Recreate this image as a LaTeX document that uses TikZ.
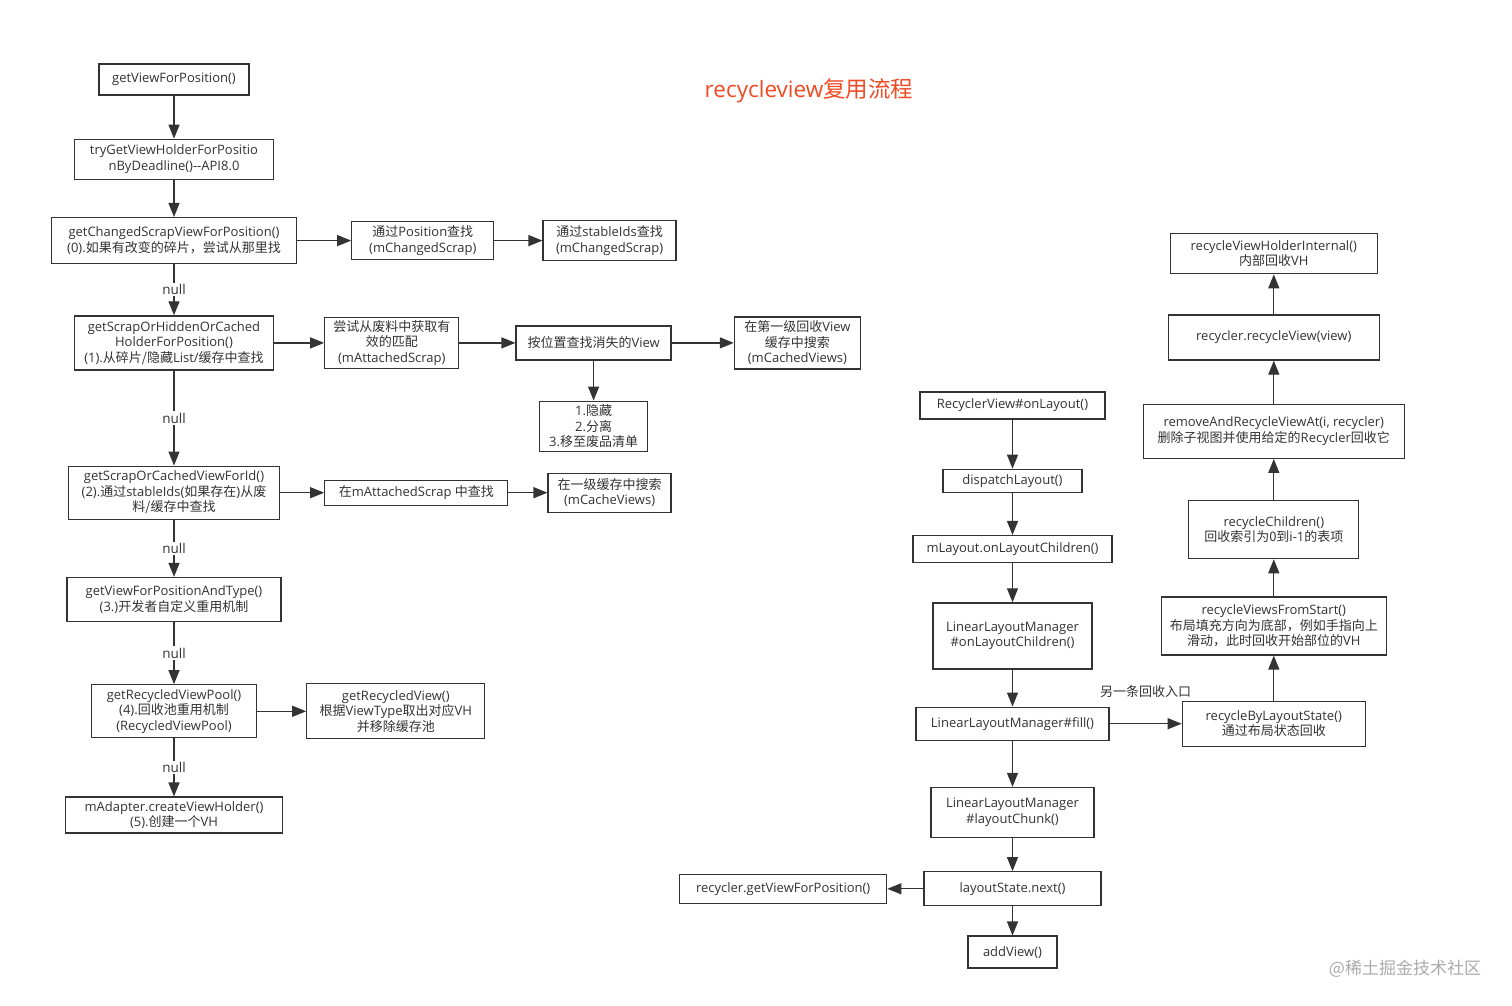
\documentclass[tikz,border=0pt]{standalone}
\usepackage{fontspec}
\setmainfont{Open Sans}
\newfontfamily\cjkfont{Noto Sans CJK SC}
\usetikzlibrary{arrows.meta, positioning}
\definecolor{linegray}{HTML}{333333}
\definecolor{titlered}{HTML}{F04A24}
\definecolor{markgray}{HTML}{ABABAB}
\newcommand{\zh}[1]{{\cjkfont #1}}

\begin{document}
\begin{tikzpicture}[x=1pt, y=1pt,
  box/.style={rectangle, draw=linegray, line width=1.3pt, fill=white, text=linegray, align=center, inner sep=1pt, font=\fontsize{13}{15.5}\selectfont},
  sz/.style 2 args={minimum width=#1pt, minimum height=#2pt},
  arrow/.style={-{Triangle[length=14pt, width=11pt]}, line width=1.3pt, color=linegray},
  lbl/.style={fill=white, text=linegray, inner sep=1.5pt, font=\fontsize{13.5}{15}\selectfont}
]
\useasboundingbox[fill=white] (0,0) rectangle (1512,-1006);
\node[font=\fontsize{22.5}{26}\selectfont, text=titlered] (title) at (809,-91) {recycleview\zh{复用流程}};

% lookup chain
\node[box, sz={150}{31}] (gv) at (174,-79.5) {getViewForPosition()};
\node[box, sz={199}{40}, below=43pt of gv] (tryget) {tryGetViewHolderForPositio\\nByDeadline(){-}{-}API8.0};
\node[box, sz={245}{46}, below=37pt of tryget] (changed) {getChangedScrapViewForPosition()\\(0).\zh{如果有改变的碎片，尝试从那里找}};
\node[box, sz={199}{54}, below=51pt of changed] (hidden) {getScrapOrHiddenOrCached\\HolderForPosition()\\(1).\zh{从碎片/隐藏}List/\zh{缓存中查找}};
\node[box, sz={211}{53}, below=95pt of hidden] (byid) {getScrapOrCachedViewForId()\\(2).\zh{通过}stableIds(\zh{如果存在})\zh{从废}\\\zh{料/缓存中查找}};
\node[box, sz={214}{44}, below=57pt of byid] (bytype) {getViewForPositionAndType()\\(3.)\zh{开发者自定义重用机制}};
\node[box, sz={165}{53}, below=62pt of bytype] (pool) {getRecycledViewPool()\\(4).\zh{回收池重用机制}\\(RecycledViewPool)};
\node[box, sz={217}{36}, below=58pt of pool] (create) {mAdapter.createViewHolder()\\(5).\zh{创建一个}VH};

% side lookups
\node[box, sz={142}{38}, right=54pt of changed] (chpos) {\zh{通过}Position\zh{查找}\\(mChangedScrap)};
\node[box, sz={133}{40}, right=48pt of chpos] (chid) {\zh{通过}stableIds\zh{查找}\\(mChangedScrap)};
\node[box, sz={134}{51}, right=50pt of hidden] (attached) {\zh{尝试从废料中获取有}\\\zh{效的匹配}\\(mAttachedScrap)};
\node[box, sz={155}{34}, right=56pt of attached] (hiddenpos) {\zh{按位置查找消失的}View};
\node[box, sz={126}{52}, right=62pt of hiddenpos] (cached) {\zh{在第一级回收}View\\\zh{缓存中搜索}\\(mCachedViews)};
\node[box, sz={108}{50}, below=40pt of hiddenpos] (steps) {1.\zh{隐藏}\\2.\zh{分离}\\3.\zh{移至废品清单}};
\node[box, sz={183}{25}, right=44pt of byid] (attscrap) {\zh{在}mAttachedScrap \zh{中查找}};
\node[box, sz={123}{39}, right=39pt of attscrap] (cacheviews) {\zh{在一级缓存中搜索}\\(mCacheViews)};
\node[box, sz={178}{55}, right=49pt of pool] (recview) {getRecycledView()\\\zh{根据}ViewType\zh{取出对应}VH\\\zh{并移除缓存池}};

% layout chain
\node[box, sz={185}{27}] (onlayout) at (1012.5,-405.5) {RecyclerView\#onLayout()};
\node[box, sz={139}{23}, below=49pt of onlayout] (dispatch) {dispatchLayout()};
\node[box, sz={199}{27}, below=42pt of dispatch] (mlayout) {mLayout.onLayoutChildren()};
\node[box, sz={159}{66}, below=39pt of mlayout] (llmchildren) {LinearLayoutManager\\\#onLayoutChildren()};
\node[box, sz={193}{33}, below=37pt of llmchildren] (llmfill) {LinearLayoutManager\#fill()};
\node[box, sz={163}{50}, below=46pt of llmfill] (chunk) {LinearLayoutManager\\\#layoutChunk()};
\node[box, sz={177}{34}, below=33pt of chunk] (next) {layoutState.next()};
\node[box, sz={89}{32}, below=29pt of next] (addview) {addView()};
\node[box, sz={207}{29}, left=36pt of next] (getview) {recycler.getViewForPosition()};

% recycle chain
\node[box, sz={183}{45}, right=72pt of llmfill] (bystate) {recycleByLayoutState()\\\zh{通过布局状态回收}};
\node[box, sz={225}{58}, above=45pt of bystate] (fromstart) {recycleViewsFromStart()\\\zh{布局填充方向为底部，例如手指向上}\\\zh{滑动，此时回收开始部位的}VH};
\node[box, sz={170}{58}, above=37pt of fromstart] (children) {recycleChildren()\\\zh{回收索引为0到}i-1\zh{的表项}};
\node[box, sz={261}{54}, above=41pt of children] (removeat) {removeAndRecycleViewAt(i, recycler)\\\zh{删除子视图并使用给定的}Recycler\zh{回收它}};
\node[box, sz={211}{45}, above=43pt of removeat] (recycleview) {recycler.recycleView(view)};
\node[box, sz={207}{40}, above=40pt of recycleview] (internal) {recycleViewHolderInternal()\\\zh{内部回收}VH};

\node[text=markgray, font=\cjkfont\fontsize{17}{20}\selectfont] (mark) at (1405,-969) {@稀土掘金技术社区};

\draw[arrow] (gv) -- (tryget);
\draw[arrow] (tryget) -- (changed);
\draw[arrow] (changed) -- node[lbl] {null} (hidden);
\draw[arrow] (hidden) -- node[lbl] {null} (byid);
\draw[arrow] (byid) -- node[lbl] {null} (bytype);
\draw[arrow] (bytype) -- node[lbl] {null} (pool);
\draw[arrow] (pool) -- node[lbl] {null} (create);

\draw[arrow] (changed) -- (chpos);
\draw[arrow] (chpos) -- (chid);
\draw[arrow] (hidden) -- (attached);
\draw[arrow] (attached) -- (hiddenpos);
\draw[arrow] (hiddenpos) -- (cached);
\draw[arrow] (hiddenpos) -- (steps);
\draw[arrow] (byid) -- (attscrap);
\draw[arrow] (attscrap) -- (cacheviews);
\draw[arrow] (pool) -- (recview);

\draw[arrow] (onlayout) -- (dispatch);
\draw[arrow] (dispatch) -- (mlayout);
\draw[arrow] (mlayout) -- (llmchildren);
\draw[arrow] (llmchildren) -- (llmfill);
\draw[arrow] (llmfill) -- (chunk);
\draw[arrow] (chunk) -- (next);
\draw[arrow] (next) -- (addview);
\draw[arrow] (next) -- (getview);

\draw[arrow] (llmfill) -- node[above=22pt, text=linegray, font=\cjkfont\fontsize{13}{15}\selectfont] {另一条回收入口} (bystate);
\draw[arrow] (bystate) -- (fromstart);
\draw[arrow] (fromstart) -- (children);
\draw[arrow] (children) -- (removeat);
\draw[arrow] (removeat) -- (recycleview);
\draw[arrow] (recycleview) -- (internal);
\end{tikzpicture}
\end{document}
